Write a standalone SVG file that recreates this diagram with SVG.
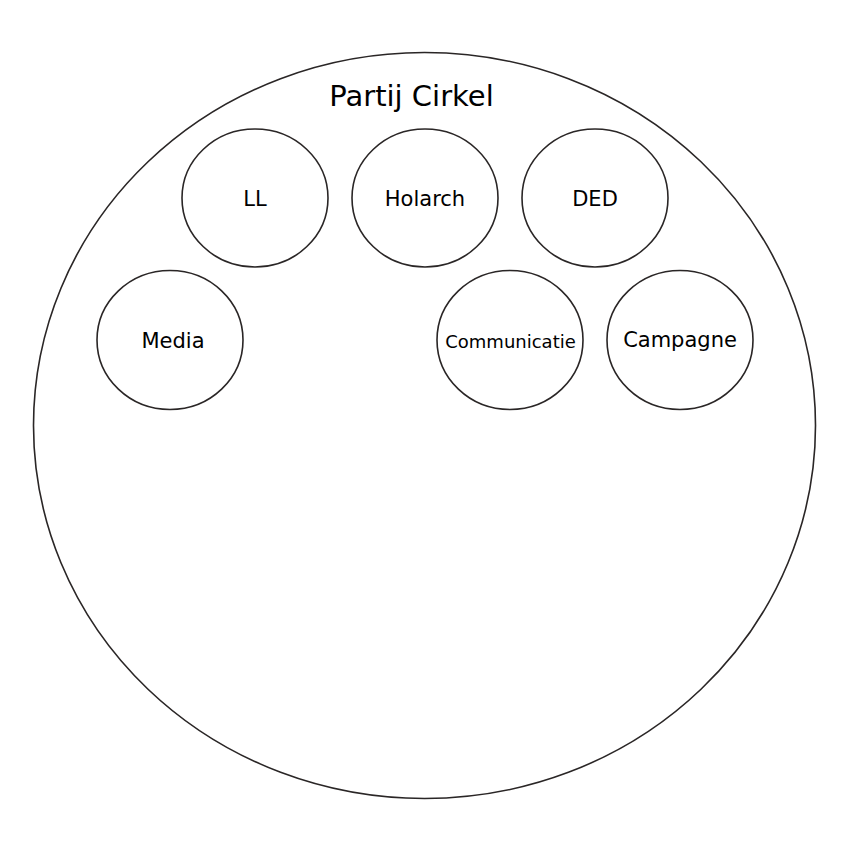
<svg xmlns="http://www.w3.org/2000/svg" width="850" height="850" viewBox="0 0 850 850">
<style>
.c{fill:#fff;stroke:#2a2626;stroke-width:1.6}
.t{font-family:"DejaVu Sans",sans-serif;fill:#000;text-anchor:middle}
</style>
<rect width="850" height="850" fill="#fff"/>
<g id="partij">
<ellipse class="c" cx="424.5" cy="425.5" rx="391" ry="373"/>
<text class="t" x="411.5" y="105.5" font-size="29">Partij Cirkel</text>
</g>
<g id="ll">
<ellipse class="c" cx="255" cy="198" rx="73" ry="69"/>
<text class="t" x="255" y="206" font-size="21">LL</text>
</g>
<g id="holarch">
<ellipse class="c" cx="425" cy="198" rx="73" ry="69"/>
<text class="t" x="425" y="206" font-size="21">Holarch</text>
</g>
<g id="ded">
<ellipse class="c" cx="595" cy="198" rx="73" ry="69"/>
<text class="t" x="595" y="206" font-size="21">DED</text>
</g>
<g id="media">
<ellipse class="c" cx="170" cy="340" rx="73" ry="69.5"/>
<text class="t" x="173" y="348" font-size="21">Media</text>
</g>
<g id="communicatie">
<ellipse class="c" cx="510" cy="340" rx="73" ry="69.5"/>
<text class="t" x="510.5" y="348" font-size="18">Communicatie</text>
</g>
<g id="campagne">
<ellipse class="c" cx="680" cy="340" rx="73" ry="69.5"/>
<text class="t" x="680" y="347" font-size="21">Campagne</text>
</g>
<g id="connectors"/>
</svg>
